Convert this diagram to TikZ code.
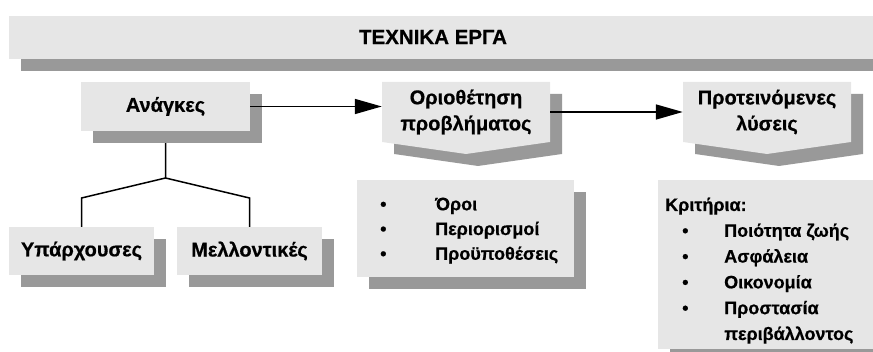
\documentclass[tikz,border=0pt]{standalone}
\usepackage{fontspec}
\setmainfont{Liberation Sans}[BoldFeatures={FakeBold=0.6}]
\usetikzlibrary{arrows.meta,shadows}
\definecolor{lightbox}{RGB}{230,230,230}
\definecolor{shadowgray}{RGB}{153,153,153}
\begin{document}
\begin{tikzpicture}[x=1pt,y=-1pt,
  sbox/.style={fill=lightbox, inner sep=0pt,
    drop shadow={shadow xshift=12pt, shadow yshift=-12pt, fill=shadowgray, opacity=1},
    font=\fontsize{20}{25}\selectfont\bfseries},
  lbl/.style={inner sep=0pt, align=center, font=\fontsize{20}{26}\selectfont\bfseries},
  listtext/.style={inner sep=0pt, align=left, anchor=north west, font=\fontsize{18}{24.75}\selectfont\bfseries},
  conn/.style={line width=1.5pt},
  arr/.style={line width=1.5pt, -{Triangle[length=27pt,width=15pt]}}
]
\useasboundingbox (0,0) rectangle (873,352);
\clip (0,0) rectangle (873,352);

% banner
\node[sbox, minimum width=880pt, minimum height=43pt, anchor=north west] (banner) at (9,16) {};
\node[inner sep=0pt, font=\fontsize{20.5}{24}\selectfont\bfseries] (title) at (433,37) {ΤΕΧΝΙΚΑ ΕΡΓΑ};

% needs
\node[sbox, minimum width=169pt, minimum height=49pt] (anag) at (165.5,106.5) {Ανάγκες};
\node[sbox, minimum width=145pt, minimum height=48pt] (exist) at (81.5,251) {Υπάρχουσες};
\node[sbox, minimum width=145pt, minimum height=48pt] (mellon) at (249.5,251) {Μελλοντικές};

% pentagon callouts
\fill[shadowgray] (394,94) -- (562,94) -- (562,154) -- (478,166) -- (394,154) -- cycle;
\fill[lightbox] (382,82) -- (550,82) -- (550,142) -- (466,154) -- (382,142) -- cycle;
\node[lbl, minimum width=168pt, minimum height=60pt] (orio) at (466,112) {Οριοθέτηση\\προβλήματος};

\fill[shadowgray] (695,94) -- (863,94) -- (863,154) -- (779,166) -- (695,154) -- cycle;
\fill[lightbox] (683,82) -- (851,82) -- (851,142) -- (767,154) -- (683,142) -- cycle;
\node[lbl, minimum width=168pt, minimum height=60pt] (prot) at (767,112) {Προτεινόμενες\\λύσεις};

% lists
\node[sbox, minimum width=217pt, minimum height=97pt] (oroi) at (465.5,228.5) {};
\node[listtext] (oroilist) at (380,197.5) {\makebox[55pt][l]{•}Όροι\\
  \makebox[55pt][l]{•}Περιορισμοί\\
  \makebox[55pt][l]{•}Προϋποθέσεις};

\node[sbox, minimum width=230pt, minimum height=169pt, anchor=north west] (krit) at (658,180) {};
\node[listtext, font=\fontsize{18}{25.8}\selectfont\bfseries] (kritlist) at (665,197.5) {Κριτήρια:\\
  \hspace*{17pt}\makebox[42pt][l]{•}Ποιότητα ζωής\\
  \hspace*{17pt}\makebox[42pt][l]{•}Ασφάλεια\\
  \hspace*{17pt}\makebox[42pt][l]{•}Οικονομία\\
  \hspace*{17pt}\makebox[42pt][l]{•}Προστασία\\
  \hspace*{59pt}περιβάλλοντος};

% connectors
\coordinate (split) at (165.5,178);
\draw[conn] ([yshift=-12pt]anag.south) -- (split) -- (exist.north |- 0,198) -- (exist.north);
\draw[conn] (split) -- (mellon.north |- 0,198) -- (mellon.north);
\draw[arr] (anag.east) -- (anag.east -| orio.west);
\draw[arr] (orio.east) -- (prot.west);
\end{tikzpicture}
\end{document}
